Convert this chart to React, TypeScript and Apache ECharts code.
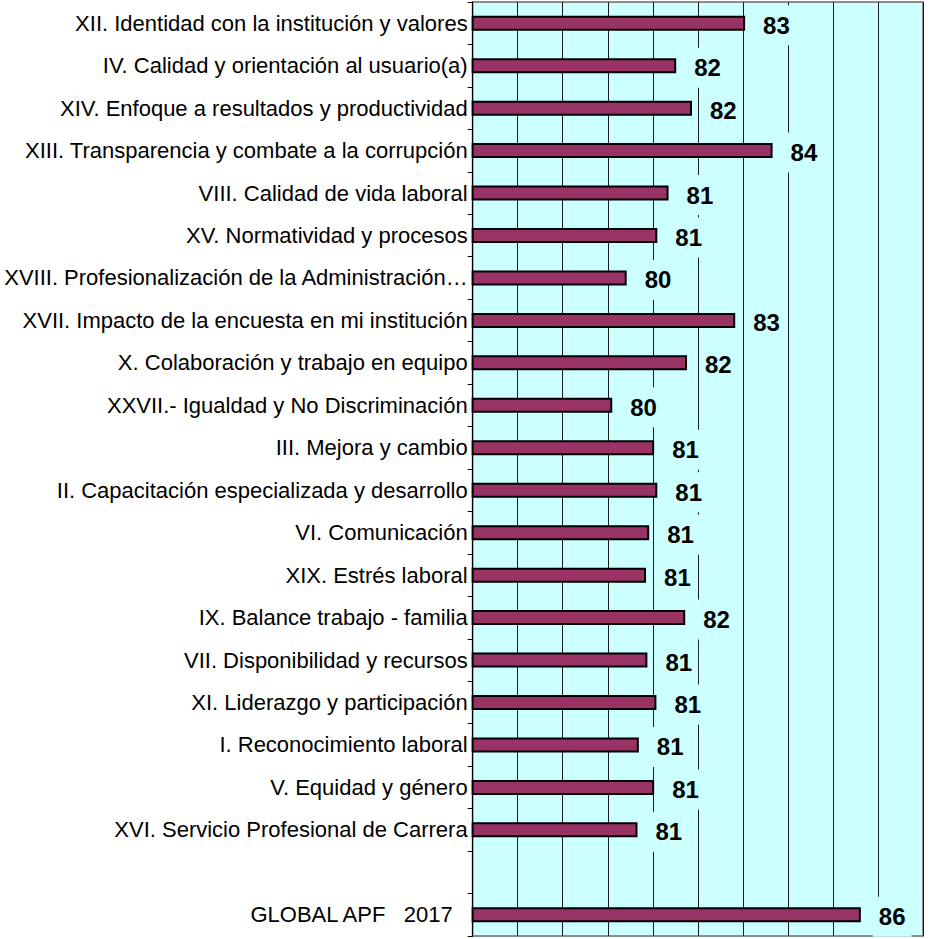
import React, { useEffect, useRef } from "react";
import * as echarts from "echarts";

const categories: string[] = [
  "XII. Identidad con la institución y valores",
  "IV. Calidad y orientación al usuario(a)",
  "XIV. Enfoque a resultados y productividad",
  "XIII. Transparencia y combate a la corrupción",
  "VIII. Calidad de vida laboral",
  "XV. Normatividad y procesos",
  "XVIII. Profesionalización de la Administración…",
  "XVII. Impacto de la encuesta en mi institución",
  "X. Colaboración y trabajo en equipo",
  "XXVII.- Igualdad y No Discriminación",
  "III. Mejora y cambio",
  "II. Capacitación especializada y desarrollo",
  "VI. Comunicación",
  "XIX. Estrés laboral",
  "IX. Balance trabajo - familia",
  "VII. Disponibilidad y recursos",
  "XI. Liderazgo y participación",
  "I. Reconocimiento laboral",
  "V. Equidad y género",
  "XVI. Servicio Profesional de Carrera",
  "",
  "GLOBAL APF\u00a0\u00a0\u00a02017",
];

const values: (number | null)[] = [
  83.05, 81.52, 81.87, 83.66, 81.35, 81.1, 80.42, 82.83, 81.76, 80.1, 81.03,
  81.1, 80.92, 80.85, 81.72, 80.88, 81.08, 80.69, 81.03, 80.66, null, 85.62,
];

const axisMin = 77;
const axisMax = 87;
const axisStep = 1;

const FONT = '"Liberation Sans", Arial, Helvetica, sans-serif';
const BG = "#CCFFFF";

export default function App() {
  const ref = useRef<HTMLDivElement>(null);
  useEffect(() => {
    document.body.style.margin = "0";
    if (!ref.current) return;
    const chart = echarts.init(ref.current, null, { renderer: "svg" });
    chart.setOption({
      animation: false,
      backgroundColor: "#FFFFFF",
      grid: {
        left: 467,
        top: 2,
        width: 456,
        height: 934,
        show: true,
        backgroundColor: BG,
        borderColor: "#8C8C8C",
        borderWidth: 2,
      },
      xAxis: {
        type: "value",
        min: axisMin,
        max: axisMax,
        interval: axisStep,
        axisLabel: { show: false },
        axisTick: { show: false },
        axisLine: { show: false },
        splitLine: { show: true, lineStyle: { color: "#1A1A1A", width: 1 } },
      },
      yAxis: {
        type: "category",
        inverse: true,
        data: categories,
        axisLine: { show: true, lineStyle: { color: "#000", width: 1 } },
        axisTick: { show: true, length: 5, lineStyle: { color: "#000" } },
        axisLabel: {
          margin: 5,
          fontSize: 22,
          color: "#000",
          fontFamily: FONT,
          formatter: (v: string) => (v.startsWith("GLOBAL") ? `{g|${v}}` : v),
          rich: {
            g: {
              fontSize: 22,
              color: "#000",
              fontFamily: FONT,
              padding: [0, 15, 0, 0],
            },
          },
        },
        splitLine: { show: false },
      },
      series: [
        {
          type: "bar",
          data: values,
          barWidth: 15,
          itemStyle: {
            color: "#993366",
            borderColor: "#000",
            borderWidth: 2,
          },
          label: {
            show: true,
            position: "right",
            distance: 12,
            offset: [0, 2],
            formatter: (p: any) => String(Math.round(p.value)),
            fontSize: 24,
            fontWeight: "bold",
            fontFamily: FONT,
            color: "#000",
            backgroundColor: BG,
            padding: [8, 6],
            lineHeight: 24,
          },
        },
      ],
    });
    return () => chart.dispose();
  }, []);
  return <div ref={ref} style={{ width: 930, height: 939 }} />;
}
